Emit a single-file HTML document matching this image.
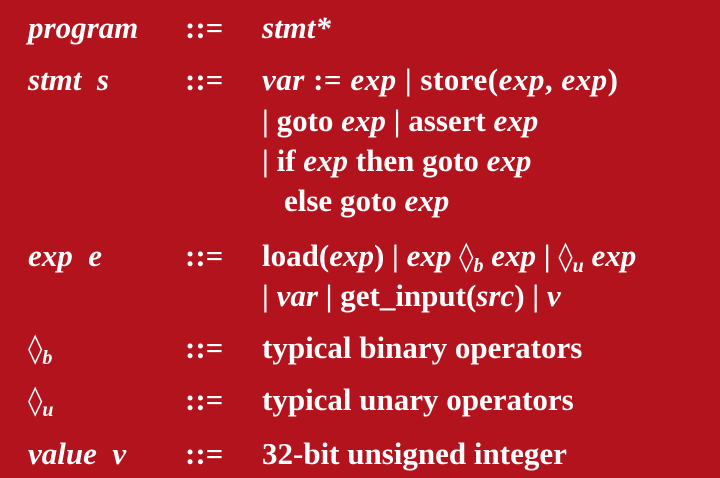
<!DOCTYPE html>
<html><head><meta charset="utf-8"><style>
body{margin:0;width:720px;height:478px;background:#b3131d;overflow:hidden;font-family:"Liberation Serif","DejaVu Serif",serif;font-weight:bold;color:#fff;font-size:31px}
.l{position:absolute;line-height:31px;white-space:nowrap}
i{font-style:italic}
.d{font-size:29px;font-weight:normal;font-family:"DejaVu Serif",serif}
sub{font-size:20px;font-style:italic;vertical-align:-6px;line-height:0}
</style></head><body>
<div class="l" style="left:28px;top:12px"><i>program</i></div>
<div class="l" style="left:185px;top:12px">::=</div>
<div class="l" style="left:262px;top:12px"><i>stmt*</i></div>

<div class="l" style="left:28px;top:64px"><i>stmt&nbsp; s</i></div>
<div class="l" style="left:185px;top:64px">::=</div>
<div class="l" style="left:262px;top:64px;letter-spacing:0.5px"><i>var</i> := <i>exp</i> | store(<i>exp</i>, <i>exp</i>)</div>
<div class="l" style="left:262px;top:105px">| goto <i>exp</i> | assert <i>exp</i></div>
<div class="l" style="left:262px;top:145px">| if <i>exp</i> then goto <i>exp</i></div>
<div class="l" style="left:284px;top:185px">else goto <i>exp</i></div>

<div class="l" style="left:28px;top:240px"><i>exp&nbsp; e</i></div>
<div class="l" style="left:185px;top:240px">::=</div>
<div class="l" style="left:262px;top:240px">load(<i>exp</i>) | <i>exp</i> <span class="d">◊</span><sub>b</sub> <i>exp</i> | <span class="d">◊</span><sub>u</sub> <i>exp</i></div>
<div class="l" style="left:262px;top:280px">| <i>var</i> | get_input(<i>src</i>) | <i>v</i></div>

<div class="l" style="left:28px;top:332px"><span class="d">◊</span><sub>b</sub></div>
<div class="l" style="left:185px;top:332px">::=</div>
<div class="l" style="left:262px;top:332px">typical binary operators</div>

<div class="l" style="left:28px;top:384px"><span class="d">◊</span><sub>u</sub></div>
<div class="l" style="left:185px;top:384px">::=</div>
<div class="l" style="left:262px;top:384px">typical unary operators</div>

<div class="l" style="left:28px;top:438px"><i>value&nbsp; v</i></div>
<div class="l" style="left:185px;top:438px">::=</div>
<div class="l" style="left:262px;top:438px">32-bit unsigned integer</div>
</body></html>
